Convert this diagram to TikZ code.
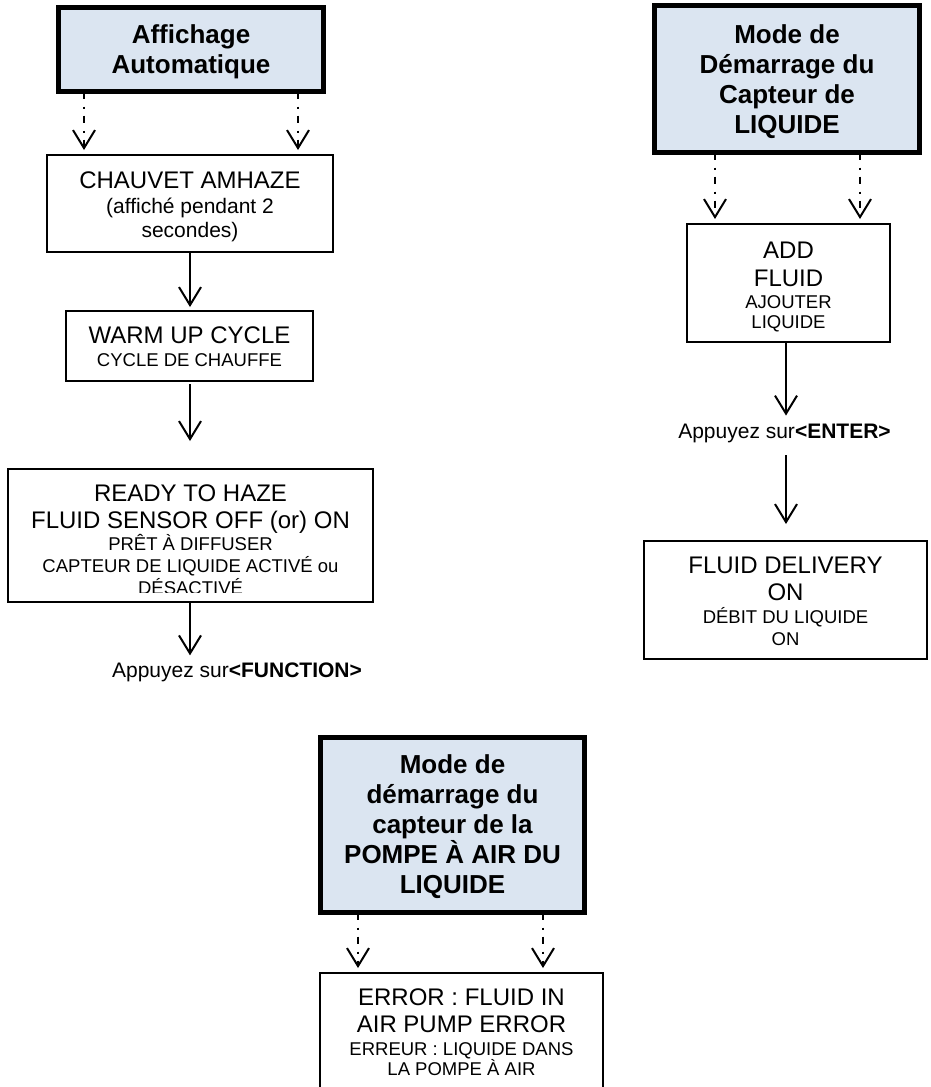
\documentclass[tikz,border=0pt]{standalone}
\usepackage{fontspec}
\setmainfont{Liberation Sans}
\usetikzlibrary{arrows.meta}
\definecolor{hdrfill}{RGB}{219,229,241}
\newcommand\fbig{\fontsize{24}{28}\selectfont}
\newcommand\fmed{\fontsize{21}{24}\selectfont}
\newcommand\fsml{\fontsize{18.5}{21}\selectfont}
\newcommand\fhdr{\bfseries\fontsize{26}{30}\selectfont}
\begin{document}
\begin{tikzpicture}[x=1pt,y=-1pt,
  hdr/.style={draw=black,line width=5pt,fill=hdrfill,inner sep=0,outer sep=0},
  box/.style={draw=black,line width=2pt,fill=white,inner sep=0,outer sep=0},
  tl/.style={anchor=base,inner sep=0,outer sep=0},
  arr/.style={line width=2pt,-{Straight Barb[length=18pt,width=22pt,line width=2pt]},shorten >=4pt},
  dd/.style={line width=2pt,dash pattern=on 7pt off 8pt on 2pt off 7pt,-{Straight Barb[length=18pt,width=22pt,line width=2pt]},shorten >=5pt}]
\useasboundingbox (0,0) rectangle (931,1087);
\clip (0,0) rectangle (931,1087);

% ---------- left column ----------
\node[hdr,minimum width=265pt,minimum height=84pt] (h1) at (191,49.5) {};
\node[tl,font=\fhdr] (h1a) at (191,43) {Affichage};
\node[tl,font=\fhdr] (h1b) at (191,73) {Automatique};

\node[box,minimum width=286pt,minimum height=97pt] (b2) at (190,203.5) {};
\node[tl,font=\fbig] (b2a) at (190,188) {CHAUVET AMHAZE};
\node[tl,font=\fmed] (b2b) at (190,213) {(affiché pendant 2};
\node[tl,font=\fmed] (b2c) at (190,237) {secondes)};

\node[box,minimum width=247pt,minimum height=70pt] (b3) at (189.5,346) {};
\node[tl,font=\fbig] (b3a) at (189.5,343) {WARM UP CYCLE};
\node[tl,font=\fsml] (b3b) at (189.5,366) {CYCLE DE CHAUFFE};

\node[box,minimum width=365pt,minimum height=133pt] (b4) at (190.5,535.5) {};
\node[tl,font=\fbig] (b4a) at (190.5,501) {READY TO HAZE};
\node[tl,font=\fbig] (b4b) at (190.5,528) {FLUID SENSOR OFF (or) ON};
\node[tl,font=\fsml] (b4c) at (190.5,550) {PRÊT À DIFFUSER};
\node[tl,font=\fsml] (b4d) at (190.5,572) {CAPTEUR DE LIQUIDE ACTIVÉ ou};
\begin{scope}
\clip (0,0) rectangle (931,592);
\node[tl,font=\fsml] (b4e) at (190.5,594) {DÉSACTIVÉ};
\end{scope}

\node[tl,font=\fmed] (fn) at (237,677) {Appuyez sur\textbf{<FUNCTION>}};

\coordinate (xl1) at (84,0);
\coordinate (xl2) at (298,0);
\coordinate (xl3) at (190,0);
\draw[dd] (h1.south -| xl1) -- (b2.north -| xl1);
\draw[dd] (h1.south -| xl2) -- (b2.north -| xl2);
\draw[arr] (b2.south -| xl3) -- (b3.north -| xl3);
\draw[arr,shorten <=3pt,shorten >=28pt] (b3.south -| xl3) -- (b4.north -| xl3);
\draw[arr,shorten >=7pt] (b4.south -| xl3) -- (fn.north -| xl3);

% ---------- right column ----------
\node[hdr,minimum width=265pt,minimum height=147pt] (h2) at (787,79) {};
\node[tl,font=\fhdr] (h2a) at (787,43) {Mode de};
\node[tl,font=\fhdr] (h2b) at (787,73) {Démarrage du};
\node[tl,font=\fhdr] (h2c) at (787,103) {Capteur de};
\node[tl,font=\fhdr] (h2d) at (787,133) {LIQUIDE};

\node[box,minimum width=203pt,minimum height=118pt] (b6) at (788.5,283) {};
\node[tl,font=\fbig] (b6a) at (788.5,258) {ADD};
\node[tl,font=\fbig] (b6b) at (788.5,286) {FLUID};
\node[tl,font=\fsml] (b6c) at (788.5,308) {AJOUTER};
\node[tl,font=\fsml] (b6d) at (788.5,328) {LIQUIDE};

\node[tl,font=\fmed] (en) at (784.5,438) {Appuyez sur\textbf{<ENTER>}};

\node[box,minimum width=283pt,minimum height=118pt] (b7) at (785.5,600) {};
\node[tl,font=\fbig] (b7a) at (785.5,573) {FLUID DELIVERY};
\node[tl,font=\fbig] (b7b) at (785.5,600.7) {ON};
\node[tl,font=\fsml] (b7c) at (785.5,623) {DÉBIT DU LIQUIDE};
\node[tl,font=\fsml] (b7d) at (785.5,645) {ON};

\coordinate (xr1) at (715,0);
\coordinate (xr2) at (860,0);
\coordinate (xr3) at (786,0);
\draw[dd] (h2.south -| xr1) -- (b6.north -| xr1);
\draw[dd] (h2.south -| xr2) -- (b6.north -| xr2);
\draw[arr,shorten >=8pt] (b6.south -| xr3) -- (en.north -| xr3);
\draw[arr,shorten <=13pt,shorten >=17pt] (en.south -| xr3) -- (b7.north -| xr3);

% ---------- bottom ----------
\node[hdr,minimum width=264pt,minimum height=175pt] (h3) at (452.5,825) {};
\node[tl,font=\fhdr] (h3a) at (452.5,773) {Mode de};
\node[tl,font=\fhdr] (h3b) at (452.5,803) {démarrage du};
\node[tl,font=\fhdr] (h3c) at (452.5,833) {capteur de la};
\node[tl,font=\fhdr] (h3d) at (452.5,863) {POMPE À AIR DU};
\node[tl,font=\fhdr] (h3e) at (452.5,893) {LIQUIDE};

\node[box,minimum width=283pt,minimum height=147pt] (b9) at (461.5,1046.5) {};
\node[tl,font=\fbig] (b9a) at (461.5,1005) {ERROR : FLUID IN};
\node[tl,font=\fbig] (b9b) at (461.5,1032) {AIR PUMP ERROR};
\node[tl,font=\fsml] (b9c) at (461.5,1055) {ERREUR : LIQUIDE DANS};
\node[tl,font=\fsml] (b9d) at (461.5,1075) {LA POMPE À AIR};

\coordinate (xb1) at (358,0);
\coordinate (xb2) at (543,0);
\draw[dd] (h3.south -| xb1) -- (b9.north -| xb1);
\draw[dd] (h3.south -| xb2) -- (b9.north -| xb2);
\end{tikzpicture}
\end{document}
